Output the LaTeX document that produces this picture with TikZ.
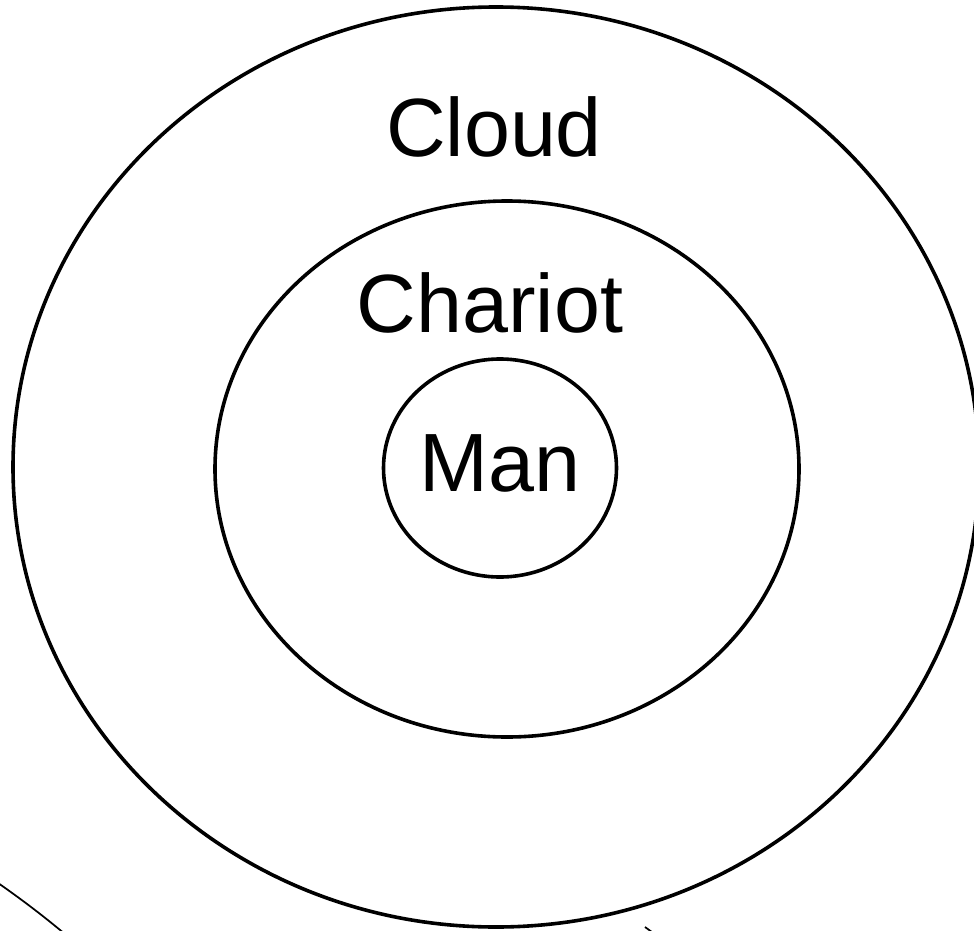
\documentclass[tikz,border=0pt]{standalone}
\usepackage{fontspec}
\setmainfont{Liberation Sans}
\usetikzlibrary{shapes.geometric}
\begin{document}
\begin{tikzpicture}[x=0.75pt,y=-0.75pt,
  ring/.style={draw=black, line width=2.7pt, ellipse, inner sep=0pt, fill=none},
  lbl/.style={font=\fontsize{62}{70}\selectfont, anchor=base, inner sep=0pt},
  thin/.style={draw=black, line width=1.3pt}]
\useasboundingbox (0,0) rectangle (974,931);
\fill[white] (0,0) rectangle (974,931);
\node[ring, minimum width=966*0.75pt, minimum height=920*0.75pt] (cloud) at (496,467) {};
\node[ring, minimum width=584*0.75pt, minimum height=536*0.75pt] (chariot) at (507,469) {};
\node[ring, minimum width=233*0.75pt, minimum height=218*0.75pt] (man) at (500,468) {};
\node[lbl] (tcloud) at (494,156) {Cloud};
\node[lbl] (tchariot) at (490,332) {Chariot};
\node[lbl] (tman) at (500,491) {Man};
\coordinate (a1) at (-12,876);
\coordinate (a2) at (72,940);
\draw[thin] (a1) .. controls (20,898) and (45,917) .. (a2);
\coordinate (b1) at (645,927);
\coordinate (b2) at (656,935);
\draw[thin] (b1) -- (b2);
\end{tikzpicture}
\end{document}
